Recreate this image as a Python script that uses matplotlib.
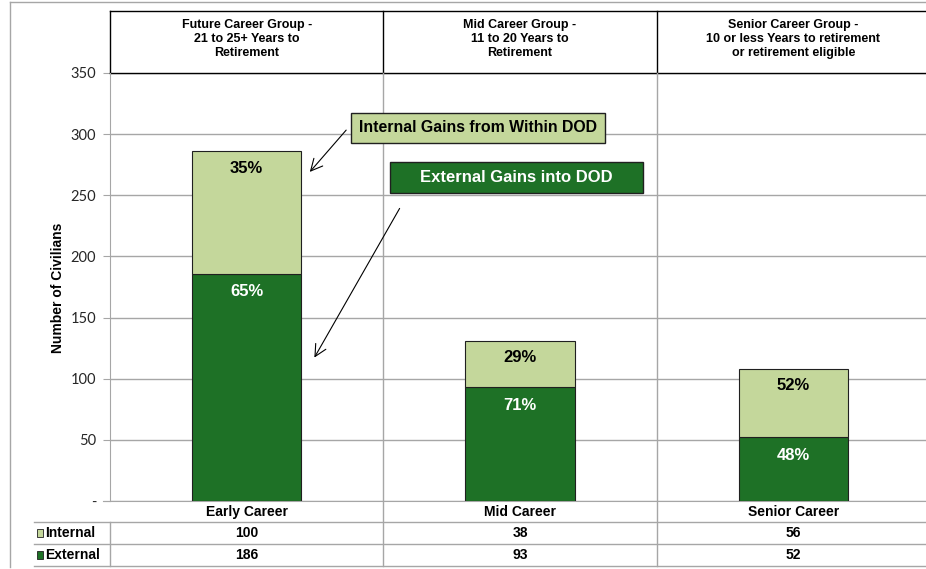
import matplotlib.pyplot as plt
from matplotlib.patches import Rectangle, FancyArrowPatch
from matplotlib.lines import Line2D
from matplotlib.transforms import blended_transform_factory

# data
categories = ['Early Career', 'Mid Career', 'Senior Career']
headers = ['Future Career Group -\n21 to 25+ Years to\nRetirement',
           'Mid Career Group -\n11 to 20 Years to\nRetirement',
           'Senior Career Group -\n10 or less Years to retirement\nor retirement eligible']
internal = [100, 38, 56]
external = [186, 93, 52]
yticks = [0, 50, 100, 150, 200, 250, 300, 350]

dark = '#1e7126'
light = '#c4d79b'
grid = '#a6a6a6'
W, H = 926, 569

bold = ['Liberation Sans', 'DejaVu Sans']
narrow = ['Liberation Sans Narrow', 'Liberation Sans', 'DejaVu Sans']


def fx(px):
    return px / W


def fy(py):
    return 1 - py / H


fig = plt.figure(figsize=(W / 100, H / 100), dpi=100)
ax = fig.add_axes([fx(110), fy(501), fx(930) - fx(110), fy(73) - fy(501)])
ax.set_xlim(-0.5, 2.5)
ax.set_ylim(0, 350)

x = list(range(len(categories)))
ax.bar(x, external, width=0.4, color=dark, edgecolor='#202020', linewidth=0.8, zorder=3)
ax.bar(x, internal, width=0.4, bottom=external, color=light, edgecolor='#202020',
       linewidth=0.8, zorder=3)

for i in x:
    tot = internal[i] + external[i]
    pin = round(100 * internal[i] / tot)
    pex = 100 - pin
    ax.annotate(f'{pin}%', (i, tot), xytext=(0, -17), textcoords='offset pixels',
                ha='center', va='center', fontsize=12, fontweight='bold',
                family=bold, color='black', zorder=4)
    ax.annotate(f'{pex}%', (i, external[i]), xytext=(0, -18), textcoords='offset pixels',
                ha='center', va='center', fontsize=12, fontweight='bold',
                family=bold, color='white', zorder=4)

# axes styling
ax.set_yticks(yticks)
ax.set_yticklabels(['-' if v == 0 else str(v) for v in yticks], family=['Lato', 'DejaVu Sans'],
                   fontsize=10.5, color='#262626')
ax.set_xticks([])
ax.tick_params(axis='y', length=5, color=grid, pad=5)
ax.grid(axis='y', color=grid, linewidth=1, zorder=0)
for s in ['top', 'right']:
    ax.spines[s].set_visible(False)
ax.spines['left'].set_color(grid)
ax.spines['bottom'].set_color(grid)
ax.spines['bottom'].set_bounds(-0.5 - 7 * 3 / 820, 2.5)

fig.text(fx(58), fy(288), 'Number of Civilians', rotation=90, ha='center', va='center',
         fontsize=10, fontweight='bold', family=bold)

# outer frame
fig.add_artist(Line2D([fx(10), fx(930)], [fy(1.5), fy(1.5)], color=grid, lw=1))
fig.add_artist(Line2D([fx(10), fx(10)], [fy(1.5), fy(567)], color=grid, lw=1))

# header boxes
hdr = blended_transform_factory(ax.transData, fig.transFigure)
ax.add_artist(Line2D([-0.5, 2.6], [fy(11), fy(11)], transform=hdr, color='black', lw=1, clip_on=False))
ax.add_artist(Line2D([-0.5, 2.6], [fy(73), fy(73)], transform=hdr, color='black', lw=1, clip_on=False))
for b in [-0.5, 0.5, 1.5]:
    ax.add_artist(Line2D([b, b], [fy(11), fy(73)], transform=hdr, color='black', lw=1, clip_on=False))
for i, h in enumerate(headers):
    ax.text(i, fy(39), h, transform=hdr, ha='center', va='center', fontsize=9,
            fontweight='bold', family=bold, linespacing=1.2)

# vertical category separators through plot and table
for b in [0.5, 1.5]:
    ax.add_artist(Line2D([b, b], [fy(73), fy(566)], transform=hdr, color=grid, lw=1, clip_on=False))
ax.add_artist(Line2D([-0.5, -0.5], [fy(522), fy(566)], transform=hdr, color=grid, lw=1, clip_on=False))

# data table
for py in [522, 544, 566]:
    fig.add_artist(Line2D([fx(34), fx(930)], [fy(py), fy(py)], color=grid, lw=1))
for i, c in enumerate(categories):
    ax.text(i, fy(512), c, transform=hdr, ha='center', va='center', fontsize=10,
            fontweight='bold', family=narrow)
    ax.text(i, fy(533), str(internal[i]), transform=hdr, ha='center', va='center',
            fontsize=10, fontweight='bold', family=narrow)
    ax.text(i, fy(555), str(external[i]), transform=hdr, ha='center', va='center',
            fontsize=10, fontweight='bold', family=narrow)
for py, col, name in [(533, light, 'Internal'), (555, dark, 'External')]:
    fig.add_artist(Rectangle((fx(37), fy(py + 4)), fx(6), 8 / H, facecolor=col,
                             edgecolor='#202020', lw=0.6, transform=fig.transFigure))
    fig.text(fx(45), fy(py), name, ha='left', va='center', fontsize=10,
             fontweight='bold', family=narrow)

# callouts
fig.add_artist(Rectangle((fx(351), fy(143)), fx(254), 30 / H, facecolor=light,
                         edgecolor='#202020', lw=1, transform=fig.transFigure, zorder=5))
fig.text(fx(478), fy(128), 'Internal Gains from Within DOD', ha='center', va='center',
         fontsize=11.4, fontweight='bold', family=bold, zorder=6)
fig.add_artist(Rectangle((fx(390), fy(193)), fx(253), 31 / H, facecolor=dark,
                         edgecolor='#202020', lw=1, transform=fig.transFigure, zorder=5))
fig.text(fx(516), fy(177), 'External Gains into DOD', ha='center', va='center',
         fontsize=12, fontweight='bold', family=bold, color='white', zorder=6)

for a, b in [((348, 128), (308, 174)), ((401, 206), (313, 360))]:
    fig.add_artist(FancyArrowPatch((fx(a[0]), fy(a[1])), (fx(b[0]), fy(b[1])),
                                   transform=fig.transFigure, arrowstyle='->,head_length=0.7,head_width=0.35',
                                   mutation_scale=12, color='black', lw=0.8, zorder=6))

fig.savefig('out.png', dpi=100)
